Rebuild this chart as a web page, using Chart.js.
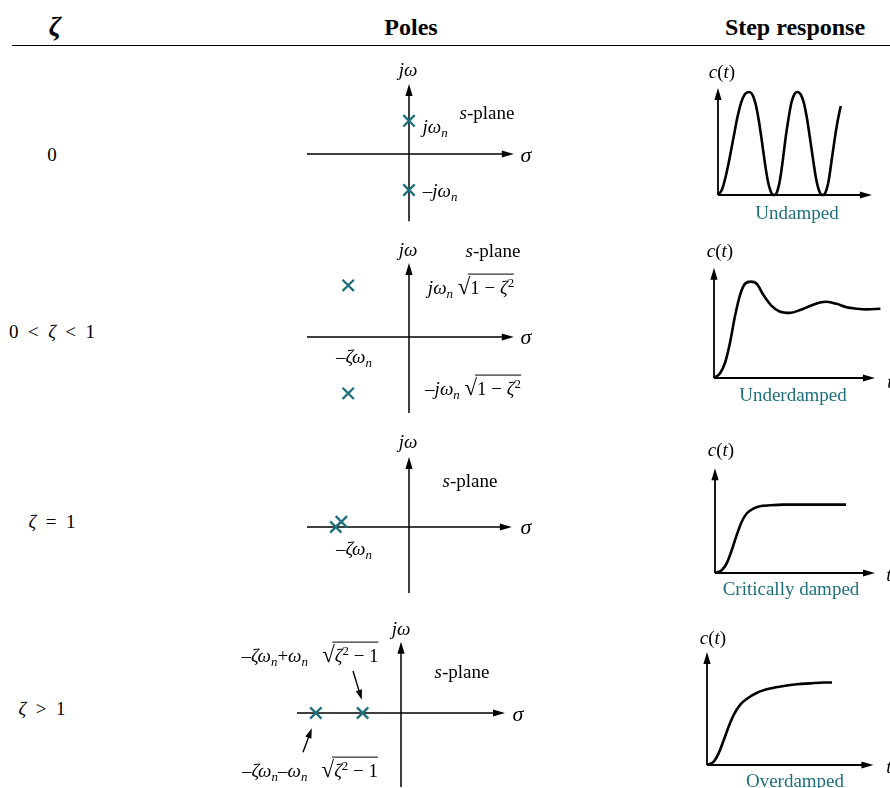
<!DOCTYPE html>
<html>
<head>
<meta charset="utf-8">
<script src="https://cdn.jsdelivr.net/npm/chart.js@4"></script>
<style>
  body { margin: 0; background: #fff; }
  #page { position: relative; width: 890px; height: 788px; overflow: hidden; font-family: "Liberation Serif", "DejaVu Serif", serif; color: #000; }
  #page canvas { position: absolute; }
  .lbl { position: absolute; transform: translate(-50%, -50%); white-space: nowrap; line-height: 1; z-index: 2; }
  .lbl sub { font-size: 0.68em; vertical-align: -0.35em; line-height: 0; }
  .lbl sup { font-size: 0.68em; vertical-align: 0.55em; line-height: 0; }
  .rt { font-size: 1.2em; }
  .ov { border-top: 1px solid #000; padding-top: 2px; margin-left: -2px; padding-left: 2px; }
  .teal { color: #1d6f7b; }
  .hd { font-weight: bold; }
  #rule { position: absolute; left: 12px; top: 45px; width: 878px; height: 0; border-top: 1.6px solid #000; }
</style>
</head>
<body>
<div id="page"><div id="rule"></div></div>
<script>
// polos (parte real / imaginaria) en unidades del plano s
const pole1Re = [0, 0];
const pole1Im = [0.83, -0.9];
const pole2Re = [-1.52, -1.52];
const pole2Im = [1.29, -1.41];
const pole3Re = [-1.83, -1.69];
const pole3Im = [0, 0.13];
const pole4Re = [-2.13, -0.96];
const pole4Im = [0, 0];

// respuestas al escalon
const undampedT = [0, 0.25, 0.49, 0.74, 0.99, 1.23, 1.48, 1.72, 1.97,
  2.17, 2.37, 2.57, 2.77, 2.97, 3.17, 3.37, 3.57,
  3.76, 3.94, 4.13, 4.31, 4.5, 4.68, 4.87, 5.05,
  5.25, 5.46, 5.66, 5.86, 6.07, 6.27, 6.47, 6.67,
  6.86, 7.05, 7.24, 7.44, 7.63, 7.82];
const undampedC = [0, 0.1, 0.36, 0.72, 1.12, 1.5, 1.8, 1.96, 2.0,
  1.96, 1.8, 1.5, 1.1, 0.66, 0.28, 0.06, 0,
  0.06, 0.28, 0.68, 1.12, 1.5, 1.8, 1.96, 2.0,
  1.96, 1.8, 1.5, 1.1, 0.66, 0.28, 0.06, 0,
  0.06, 0.28, 0.68, 1.1, 1.45, 1.73];

const underT = [0, 0.38, 0.69, 1.0, 1.31, 1.63, 1.94, 2.31, 2.67, 3.08, 3.6, 4.1, 4.75, 5.38, 6.0, 6.63, 7.04, 7.67, 8.29, 8.92, 9.54, 10.4];
const underC = [0, 0.07, 0.22, 0.51, 0.89, 1.2, 1.36, 1.39, 1.36, 1.2, 1.04, 0.96, 0.94, 0.98, 1.04, 1.09, 1.1, 1.07, 1.02, 1.0, 0.99, 1.0];

const criticalT = [0, 0.42, 0.73, 1.04, 1.35, 1.67, 1.98, 2.4, 2.81, 3.44, 4.27, 5.52, 6.77, 8.19];
const criticalC = [0, 0.04, 0.14, 0.33, 0.55, 0.75, 0.87, 0.94, 0.975, 0.99, 1.0, 1.0, 1.0, 1.0];

const overT = [0, 0.42, 0.73, 1.04, 1.35, 1.67, 2.08, 2.5, 3.13, 3.96, 4.79, 5.63, 6.46, 7.29, 7.81];
const overC = [0, 0.04, 0.14, 0.29, 0.45, 0.59, 0.71, 0.78, 0.85, 0.9, 0.93, 0.95, 0.96, 0.97, 0.97];

const TEAL = '#1d6f7b';
const page = document.getElementById('page');

function zip(xs, ys) {
  return xs.map((x, i) => ({ x: x, y: ys[i] }));
}

function arrowHead(ctx, x0, y0, x1, y1, len, half) {
  const a = Math.atan2(y1 - y0, x1 - x0);
  ctx.beginPath();
  ctx.moveTo(x1, y1);
  ctx.lineTo(x1 - len * Math.cos(a) + half * Math.sin(a), y1 - len * Math.sin(a) - half * Math.cos(a));
  ctx.lineTo(x1 - len * Math.cos(a) - half * Math.sin(a), y1 - len * Math.sin(a) + half * Math.cos(a));
  ctx.closePath();
  ctx.fill();
}

// ejes con flecha + flechas de anotacion, en coordenadas de datos
const axesPlugin = {
  id: 'ejes',
  beforeDatasetsDraw(chart, args, opts) {
    const ctx = chart.ctx;
    const sx = chart.scales.x, sy = chart.scales.y;
    const px = v => sx.getPixelForValue(v);
    const py = v => sy.getPixelForValue(v);
    ctx.save();
    ctx.strokeStyle = '#000';
    ctx.fillStyle = '#000';
    ctx.lineWidth = opts.lineWidth;
    const segs = [
      [opts.h[0], 0, opts.h[1], 0],
      [0, opts.v[0], 0, opts.v[1]]
    ];
    segs.forEach(s => {
      const x0 = px(s[0]), y0 = py(s[1]), x1 = px(s[2]), y1 = py(s[3]);
      ctx.beginPath();
      ctx.moveTo(x0, y0);
      ctx.lineTo(x1 - (x1 - x0 === 0 ? 0 : 6), y1 + (y1 - y0 === 0 ? 0 : 6));
      ctx.stroke();
      arrowHead(ctx, x0, y0, x1, y1, 12, 3.6);
    });
    (opts.arrows || []).forEach(a => {
      const x0 = px(a[0]), y0 = py(a[1]), x1 = px(a[2]), y1 = py(a[3]);
      ctx.lineWidth = 1.4;
      ctx.beginPath();
      ctx.moveTo(x0, y0);
      ctx.lineTo(x1 - (x1 - x0) * 0.25, y1 - (y1 - y0) * 0.25);
      ctx.stroke();
      arrowHead(ctx, x0, y0, x1, y1, 10, 3.2);
    });
    ctx.restore();
  }
};

function makeCanvas(p) {
  const c = document.createElement('canvas');
  c.width = p.w;
  c.height = p.h;
  c.style.left = p.left + 'px';
  c.style.top = p.top + 'px';
  c.style.width = p.w + 'px';
  c.style.height = p.h + 'px';
  page.appendChild(c);
  return c.getContext('2d');
}

function baseOptions(p, xu, yu, ejes) {
  return {
    responsive: false,
    animation: false,
    events: [],
    layout: { padding: 0, autoPadding: false },
    scales: {
      x: { type: 'linear', display: false, min: (p.left - p.ox) / xu, max: (p.left + p.w - p.ox) / xu },
      y: { type: 'linear', display: false, min: (p.oy - p.top - p.h) / yu, max: (p.oy - p.top) / yu }
    },
    plugins: { legend: { display: false }, tooltip: { enabled: false }, ejes: ejes }
  };
}

// Plano s
const U = 40;
function polePlot(p, re, im, arrows) {
  new Chart(makeCanvas(p), {
    type: 'scatter',
    data: {
      datasets: [{
        data: zip(re, im),
        pointStyle: 'crossRot',
        pointRadius: 8,
        borderColor: TEAL,
        backgroundColor: TEAL,
        borderWidth: 2.3
      }]
    },
    options: baseOptions(p, U, U, { lineWidth: 1.5, h: p.hAxis, v: p.vAxis, arrows: arrows }),
    plugins: [axesPlugin]
  });
}

polePlot({ left: 280, top: 58, w: 260, h: 170, ox: 409, oy: 154, hAxis: [-2.55, 2.62], vAxis: [-1.68, 1.75] }, pole1Re, pole1Im);
polePlot({ left: 280, top: 238, w: 260, h: 182, ox: 409, oy: 337, hAxis: [-2.55, 2.62], vAxis: [-1.9, 1.85] }, pole2Re, pole2Im);
polePlot({ left: 280, top: 432, w: 260, h: 168, ox: 409, oy: 527, hAxis: [-2.55, 2.57], vAxis: [-1.65, 1.75] }, pole3Re, pole3Im);
polePlot({ left: 280, top: 612, w: 260, h: 176, ox: 401, oy: 713, hAxis: [-2.6, 2.6], vAxis: [-1.85, 1.78] }, pole4Re, pole4Im,
  [[-1.2, 1.05, -0.98, 0.33], [-2.45, -0.98, -2.23, -0.38]]);

// Respuesta al escalon
function stepPlot(p, ts, cs) {
  new Chart(makeCanvas(p), {
    type: 'scatter',
    data: {
      datasets: [{
        data: zip(ts, cs),
        showLine: true,
        cubicInterpolationMode: 'monotone',
        borderColor: '#000',
        borderWidth: 2.6,
        pointRadius: 0
      }]
    },
    options: baseOptions(p, p.tu, p.cu, { lineWidth: 1.8, h: [0, p.tMax], v: [0, p.cMax] }),
    plugins: [axesPlugin]
  });
}

stepPlot({ left: 690, top: 80, w: 200, h: 125, ox: 718, oy: 195, tu: 15.7, cu: 51.5, tMax: 9.8, cMax: 2.08 }, undampedT, undampedC);
stepPlot({ left: 690, top: 260, w: 200, h: 125, ox: 714, oy: 378, tu: 16, cu: 69.3, tMax: 10.06, cMax: 1.59 }, underT, underC);
stepPlot({ left: 690, top: 458, w: 200, h: 122, ox: 715, oy: 573, tu: 16, cu: 68.4, tMax: 10.0, cMax: 1.53 }, criticalT, criticalC);
stepPlot({ left: 690, top: 642, w: 200, h: 130, ox: 707, oy: 765, tu: 16, cu: 85, tMax: 10.4, cMax: 1.33 }, overT, overC);

// Textos
function label(html, x, y, size, cls) {
  const d = document.createElement('div');
  d.className = 'lbl' + (cls ? ' ' + cls : '');
  d.innerHTML = html;
  d.style.left = x + 'px';
  d.style.top = y + 'px';
  d.style.fontSize = size + 'px';
  page.appendChild(d);
}

const jw = '<i>j</i><i>ω</i>';
const jwn = '<i>jω<sub>n</sub></i>';
const sPlane = '<i>s</i>-plane';
const zwn = '–<i>ζω<sub>n</sub></i>';
const root1 = '<span class="rt">√</span><span class="ov">1 − <i>ζ</i><sup>2</sup></span>';
const root2 = '<span class="rt">√</span><span class="ov"><i>ζ</i><sup>2</sup> − 1</span>';
const ct = '<i>c</i>(<i>t</i>)';
const F = 19;

label('<i>ζ</i>', 55, 26, 28, 'hd');
label('Poles', 411, 27, 24, 'hd');
label('Step response', 795, 27, 24, 'hd');

label('0', 52, 154, F);
label('0&nbsp; &lt; &nbsp;<i>ζ</i>&nbsp; &lt; &nbsp;1', 52, 331, F);
label('<i>ζ</i>&nbsp; = &nbsp;1', 52, 521, F);
label('<i>ζ</i>&nbsp; &gt; &nbsp;1', 42, 708, F);

// fila 1
label(jw, 408, 69, F);
label(sPlane, 487, 112, F);
label(jwn, 435, 126, F);
label('–' + jwn, 440, 190, F);
label('<i>σ</i>', 526, 155, 22);
// fila 2
label(jw, 408, 249, F);
label(sPlane, 493, 250, F);
label(jwn + ' ' + root1, 471, 287, F);
label(zwn, 354, 356, F);
label('–' + jwn + ' ' + root1, 473, 388, F);
label('<i>σ</i>', 526, 337, 22);
// fila 3
label(jw, 408, 441, F);
label(sPlane, 470, 480, F);
label(zwn, 354, 548, F);
label('<i>σ</i>', 526, 527, 22);
// fila 4
label(jw, 401, 628, F);
label(sPlane, 462, 671, F);
label(zwn + '+<i>ω<sub>n</sub></i>&nbsp;&nbsp; ' + root2, 310, 655, F);
label(zwn + '–<i>ω<sub>n</sub></i>&nbsp;&nbsp; ' + root2, 310, 770, F);
label('<i>σ</i>', 518, 714, 22);

// escalones
label(ct, 722, 71, F);
label(ct, 720, 250, F);
label(ct, 721, 449, F);
label(ct, 713, 637, F);
label('Undamped', 797, 212, F, 'teal');
label('Underdamped', 793, 394, F, 'teal');
label('Critically damped', 791, 588, F, 'teal');
label('Overdamped', 795, 780, F, 'teal');
label('<i>t</i>', 890, 381, F);
label('<i>t</i>', 889, 574, F);
label('<i>t</i>', 889, 766, F);
</script>
</body>
</html>
